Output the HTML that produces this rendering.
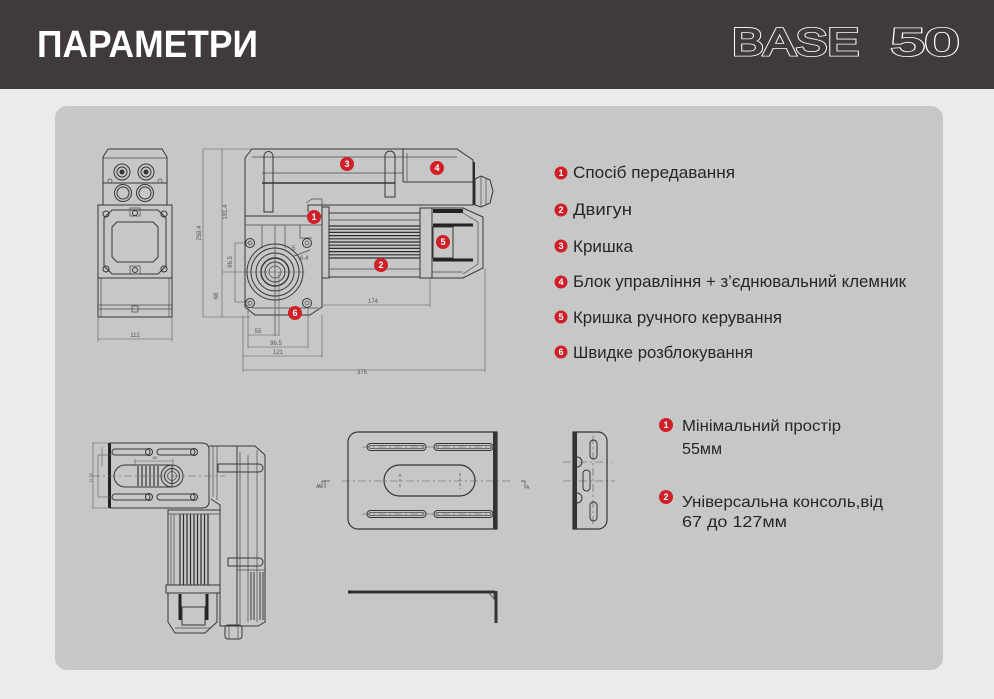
<!DOCTYPE html>
<html><head><meta charset="utf-8"><style>
html,body{margin:0;padding:0;background:#eaebea;}
svg{display:block}
.l{stroke:#363636;fill:none;stroke-width:1}
.t{stroke:#4a4a4a;fill:none;stroke-width:.7}
.d{stroke:#5a5a5a;fill:none;stroke-width:.6}
.k{stroke:#2a2a2a;fill:none;stroke-width:2.5}
.cl{stroke:#555;fill:none;stroke-width:.6;stroke-dasharray:8 3 2 3}
.dim{font-family:"Liberation Sans",sans-serif;font-size:6px;fill:#555}
.lg{font-family:"Liberation Sans","Noto Sans CJK SC",sans-serif;fill:#262626}
.bn{font-family:"Liberation Sans",sans-serif;font-size:9px;font-weight:bold;fill:#fff;text-anchor:middle}
</style></head><body>
<svg width="994" height="699" viewBox="0 0 994 699" xmlns="http://www.w3.org/2000/svg">
<rect x="0" y="0" width="994" height="699" fill="#eaebea"/>
<rect x="0" y="0" width="994" height="89" fill="#403b3a"/>
<text x="37" y="57" font-family="Liberation Sans, sans-serif" font-weight="bold" font-size="38" fill="#fff" textLength="221" lengthAdjust="spacingAndGlyphs">ПАРАМЕТРИ</text>
<g font-family="Liberation Sans, sans-serif" font-size="38">
<text x="732" y="55" textLength="127" lengthAdjust="spacingAndGlyphs" fill="#403b3a" stroke="#fff" stroke-width="3">BASE</text>
<text x="732" y="55" textLength="127" lengthAdjust="spacingAndGlyphs" fill="#403b3a" stroke="#403b3a" stroke-width="1.4">BASE</text>
<text x="891" y="55" textLength="68" lengthAdjust="spacingAndGlyphs" fill="#403b3a" stroke="#fff" stroke-width="3">50</text>
<text x="891" y="55" textLength="68" lengthAdjust="spacingAndGlyphs" fill="#403b3a" stroke="#403b3a" stroke-width="1.4">50</text>
</g>
<rect x="55" y="106" width="888" height="564" rx="12" fill="#c6c8c7"/>

<!-- FRONT VIEW -->
<g>
<path class="l" d="M108,149 L162,149 L167,157 L167,205 M108,149 L103,157 L103,205"/>
<line class="t" x1="103" y1="158" x2="167" y2="158"/>
<line class="l" x1="103" y1="183" x2="167" y2="183"/>
<circle class="l" cx="122" cy="172" r="8"/><circle class="l" cx="122" cy="172" r="5"/><circle cx="122" cy="172" r="2.5" fill="#333"/>
<circle class="l" cx="146" cy="172" r="8"/><circle class="l" cx="146" cy="172" r="5"/><circle cx="146" cy="172" r="2.5" fill="#333"/>
<circle class="l" cx="123" cy="193" r="8.5"/><circle class="l" cx="123" cy="193" r="6"/>
<circle class="l" cx="145" cy="193" r="8.5"/><circle class="l" cx="145" cy="193" r="6"/>
<circle class="t" cx="110" cy="181" r="2"/><circle class="t" cx="160" cy="181" r="2"/>
<rect class="l" x="98" y="205" width="74" height="73"/>
<path class="l" d="M112,210 L158,210 L166,218 L166,266 L158,274 L112,274 L104,266 L104,218 Z"/>
<path class="l" d="M117,222 L153,222 L158,227 L158,257 L153,262 L117,262 L112,257 L112,227 Z"/>
<circle class="l" cx="106" cy="214" r="3"/><circle class="l" cx="164" cy="214" r="3"/>
<circle class="l" cx="106" cy="269" r="3"/><circle class="l" cx="164" cy="269" r="3"/>
<circle class="l" cx="135" cy="213" r="2.5"/><circle class="l" cx="135" cy="270" r="2.5"/>
<rect class="t" x="130" y="208" width="10" height="8"/><rect class="t" x="130" y="266" width="10" height="8"/>
<rect class="l" x="98" y="278" width="74" height="39"/>
<line class="t" x1="98" y1="305" x2="172" y2="305"/><line class="t" x1="98" y1="309" x2="172" y2="309"/>
<line class="t" x1="101" y1="278" x2="101" y2="317"/><line class="t" x1="169" y1="278" x2="169" y2="317"/>
<rect class="t" x="132" y="306" width="6" height="6"/>
<line class="d" x1="98" y1="317" x2="98" y2="342"/><line class="d" x1="172" y1="317" x2="172" y2="342"/>
<line class="d" x1="98" y1="339" x2="172" y2="339"/>
<text class="dim" x="135" y="337" text-anchor="middle">112</text>
</g>

<!-- SIDE VIEW -->
<g>
<line class="d" x1="203" y1="149" x2="203" y2="317"/><line class="d" x1="222" y1="149" x2="222" y2="317"/>
<line class="d" x1="203" y1="149" x2="252" y2="149"/><line class="d" x1="203" y1="317" x2="250" y2="317"/>
<text class="dim" transform="translate(201,233) rotate(-90)" text-anchor="middle">259.4</text>
<text class="dim" transform="translate(227,212) rotate(-90)" text-anchor="middle">191.4</text>
<text class="dim" transform="translate(218,296) rotate(-90)" text-anchor="middle">68</text>
<line class="d" x1="222" y1="272" x2="305" y2="272"/>
<line class="d" x1="235" y1="243" x2="235" y2="302"/>
<line class="d" x1="235" y1="243" x2="250" y2="243"/><line class="d" x1="235" y1="302" x2="250" y2="302"/>
<text class="dim" transform="translate(232,262) rotate(-90)" text-anchor="middle">96.5</text>
<path class="l" d="M245,216 L245,158 L252,149 L457,149 L473,160 L473,205 L308,205 L308,212"/>
<line class="k" x1="474" y1="162" x2="474" y2="205" style="stroke-width:2"/>
<line class="t" x1="252" y1="157" x2="457" y2="157"/>
<line class="t" x1="262" y1="173" x2="403" y2="173"/>
<line class="l" x1="262" y1="183" x2="395" y2="183" style="stroke-width:1.5"/>
<line class="l" x1="403" y1="149" x2="403" y2="182"/><line class="l" x1="403" y1="182" x2="473" y2="182"/>
<line class="t" x1="407" y1="153" x2="407" y2="182"/>
<path class="l" d="M264,212 L264,156 A4.5,4.5 0 0 1 273,156 L273,212 Z"/>
<path class="l" d="M385,197 L385,156 A5,5 0 0 1 395,156 L395,197 Z"/>
<path class="l" d="M475,179 L481,176 L490,180 L493,191 L490,203 L481,207 L475,205 Z"/>
<line class="t" x1="481" y1="176" x2="481" y2="207"/><line class="t" x1="486" y1="178" x2="486" y2="205"/>
<path class="t" d="M306,203 L312,199 L322,199 L322,207"/>
<path class="l" d="M245,216 L322,216 L322,307 L310,315 L255,315 L245,307 Z"/>
<line class="t" x1="245" y1="225" x2="322" y2="225"/>
<line class="t" x1="262" y1="225" x2="262" y2="248"/><line class="t" x1="275" y1="225" x2="275" y2="244"/><line class="t" x1="285" y1="225" x2="285" y2="248"/>
<path class="t" d="M300,225 L300,238 L312,238"/>
<line class="t" x1="252" y1="308" x2="318" y2="308"/>
<circle class="l" cx="250" cy="243" r="4.5"/><circle class="t" cx="250" cy="243" r="2"/>
<circle class="l" cx="307" cy="243" r="4.5"/><circle class="t" cx="307" cy="243" r="2"/>
<circle class="l" cx="250" cy="303" r="4.5"/><circle class="t" cx="250" cy="303" r="2"/>
<circle class="l" cx="307" cy="303" r="4.5"/><circle class="t" cx="307" cy="303" r="2"/>
<circle class="l" cx="275" cy="272" r="28"/><circle class="l" cx="275" cy="272" r="24"/>
<circle class="l" cx="275" cy="272" r="19"/><circle class="l" cx="275" cy="272" r="14" style="stroke-width:1.4"/>
<circle class="l" cx="275" cy="272" r="10"/><circle class="t" cx="275" cy="272" r="6"/>
<line class="t" x1="275" y1="244" x2="275" y2="336"/>
<line class="t" x1="294" y1="256" x2="310" y2="250"/>
<text class="dim" x="292" y="250">5</text><text class="dim" x="300" y="260">6.4</text>
<rect class="l" x="322" y="207" width="7" height="71"/>
<rect class="l" x="329" y="213" width="91" height="64"/>
<line class="t" x1="329" y1="220" x2="420" y2="220"/><line class="t" x1="329" y1="269" x2="420" y2="269"/>
<g stroke="#2e2e2e" stroke-width="1.2">
<line x1="329" y1="226" x2="420" y2="226"/><line x1="329" y1="229.2" x2="420" y2="229.2"/>
<line x1="329" y1="232.4" x2="420" y2="232.4"/><line x1="329" y1="235.6" x2="420" y2="235.6"/>
<line x1="329" y1="238.8" x2="420" y2="238.8"/><line x1="329" y1="242" x2="420" y2="242"/>
<line x1="329" y1="245.2" x2="420" y2="245.2"/><line x1="329" y1="248.4" x2="420" y2="248.4"/>
<line x1="329" y1="251.6" x2="420" y2="251.6"/><line x1="329" y1="254.8" x2="420" y2="254.8"/>
<line x1="329" y1="258" x2="420" y2="258"/>
</g>
<rect class="l" x="420" y="208" width="12" height="70"/>
<path class="l" d="M432,208 L463,208 L483,217 L483,268 L463,278 L432,278"/>
<line x1="433" y1="211" x2="463" y2="211" stroke="#222" stroke-width="4"/>
<line x1="433" y1="225" x2="473" y2="225" stroke="#222" stroke-width="3"/>
<line x1="433" y1="260" x2="473" y2="260" stroke="#222" stroke-width="3"/>
<rect class="l" x="433" y="227" width="20" height="31"/>
<path class="t" d="M463,213 L478,222 L478,264 L463,274"/>
<line class="t" x1="432" y1="272" x2="463" y2="272"/>
<line class="d" x1="323" y1="305" x2="430" y2="305"/><line class="d" x1="430" y1="278" x2="430" y2="307"/>
<text class="dim" x="373" y="303" text-anchor="middle">174</text>
<line class="d" x1="243" y1="370" x2="485" y2="370"/>
<line class="d" x1="243" y1="315" x2="243" y2="372"/><line class="d" x1="485" y1="268" x2="485" y2="372"/>
<text class="dim" x="362" y="374" text-anchor="middle">375</text>
<line class="d" x1="243" y1="356" x2="322" y2="356"/><line class="d" x1="322" y1="315" x2="322" y2="358"/>
<text class="dim" x="278" y="354" text-anchor="middle">121</text>
<line class="d" x1="248" y1="347" x2="308" y2="347"/>
<line class="d" x1="248" y1="305" x2="248" y2="348"/><line class="d" x1="308" y1="307" x2="308" y2="348"/>
<text class="dim" x="276" y="345" text-anchor="middle">96.5</text>
<line class="d" x1="248" y1="335" x2="279" y2="335"/><line class="d" x1="279" y1="272" x2="279" y2="336"/>
<text class="dim" x="258" y="333" text-anchor="middle">55</text>
</g>
<g>
<circle cx="347" cy="164" r="7" fill="#d11f28"/><text class="bn" x="347" y="167">3</text>
<circle cx="437" cy="168" r="7" fill="#d11f28"/><text class="bn" x="437" y="171">4</text>
<circle cx="314" cy="217" r="7" fill="#d11f28"/><text class="bn" x="314" y="220">1</text>
<circle cx="443" cy="242" r="7" fill="#d11f28"/><text class="bn" x="443" y="245">5</text>
<circle cx="381" cy="265" r="7" fill="#d11f28"/><text class="bn" x="381" y="268">2</text>
<circle cx="295" cy="313" r="7" fill="#d11f28"/><text class="bn" x="295" y="316">6</text>
</g>

<g>
<circle cx="561" cy="173" r="6.5" fill="#d11f28"/><text class="bn" x="561" y="176">1</text>
<circle cx="561" cy="210" r="6.5" fill="#d11f28"/><text class="bn" x="561" y="213">2</text>
<circle cx="561" cy="246" r="6.5" fill="#d11f28"/><text class="bn" x="561" y="249">3</text>
<circle cx="561" cy="282" r="6.5" fill="#d11f28"/><text class="bn" x="561" y="285">4</text>
<circle cx="561" cy="317" r="6.5" fill="#d11f28"/><text class="bn" x="561" y="320">5</text>
<circle cx="561" cy="352" r="6.5" fill="#d11f28"/><text class="bn" x="561" y="355">6</text>
<g class="lg" font-size="17">
<text x="573" y="178" textLength="162" lengthAdjust="spacingAndGlyphs">Спосіб передавання</text>
<text x="573" y="215" textLength="59" lengthAdjust="spacingAndGlyphs">Двигун</text>
<text x="573" y="252" textLength="60" lengthAdjust="spacingAndGlyphs">Кришка</text>
<text x="573" y="287" textLength="333" lengthAdjust="spacingAndGlyphs">Блок управління + з’єднювальний клемник</text>
<text x="573" y="323" textLength="209" lengthAdjust="spacingAndGlyphs">Кришка ручного керування</text>
<text x="573" y="358" textLength="180" lengthAdjust="spacingAndGlyphs">Швидке розблокування</text>
</g>
</g>

<g>
<circle cx="666" cy="425" r="7" fill="#d11f28"/><text class="bn" x="666" y="428">1</text>
<circle cx="666" cy="497" r="7" fill="#d11f28"/><text class="bn" x="666" y="500">2</text>
<g class="lg" font-size="16">
<text x="682" y="431" textLength="159" lengthAdjust="spacingAndGlyphs">Мінімальний простір</text>
<text x="682" y="454" textLength="40" lengthAdjust="spacingAndGlyphs">55мм</text>
<text x="682" y="507" textLength="201" lengthAdjust="spacingAndGlyphs">Універсальна консоль,від</text>
<text x="682" y="527" textLength="105" lengthAdjust="spacingAndGlyphs">67 до 127мм</text>
</g>
</g>

<g>
<path class="l" d="M110,443 L202,443 Q209,443 209,450 L209,501 Q209,508 202,508 L110,508"/>
<line x1="109.5" y1="443" x2="109.5" y2="508" stroke="#222" stroke-width="3"/>
<line class="d" x1="92" y1="443" x2="110" y2="443"/><line class="d" x1="92" y1="508" x2="110" y2="508"/>
<line class="d" x1="93" y1="443" x2="93" y2="508"/><line class="d" x1="98" y1="455" x2="98" y2="497"/>
<line class="d" x1="98" y1="455" x2="112" y2="455"/><line class="d" x1="98" y1="497" x2="112" y2="497"/>
<line class="d" x1="102" y1="447" x2="102" y2="466"/>
<text class="dim" transform="translate(92,478) rotate(-90)" text-anchor="middle" style="font-size:4px">11 36</text>
<rect class="l" x="112" y="449" width="38" height="6" rx="3"/><rect class="l" x="157" y="449" width="38" height="6" rx="3"/>
<rect class="l" x="112" y="494" width="38" height="6" rx="3"/><rect class="l" x="157" y="494" width="38" height="6" rx="3"/>
<circle class="l" cx="149" cy="452" r="3.5"/><circle class="l" cx="194" cy="452" r="3.5"/>
<circle class="l" cx="149" cy="497" r="3.5"/><circle class="l" cx="194" cy="497" r="3.5"/>
<path class="l" d="M125,465 L172,465 L172,487 L125,487 A11,11 0 0 1 125,465 Z"/>
<circle class="l" cx="172" cy="476" r="11"/><circle class="l" cx="172" cy="476" r="7.5"/><circle class="t" cx="172" cy="476" r="4.5"/>
<g class="l" style="stroke-width:1.2">
<line x1="138" y1="466" x2="138" y2="486"/><line x1="142" y1="466" x2="142" y2="486"/>
<line x1="146" y1="466" x2="146" y2="486"/><line x1="150" y1="466" x2="150" y2="486"/>
<line x1="154" y1="466" x2="154" y2="486"/><line x1="158" y1="466" x2="158" y2="486"/>
</g>
<line class="cl" x1="92" y1="476" x2="225" y2="476"/>
<line class="d" x1="135" y1="461" x2="173" y2="461"/>
<line class="d" x1="135" y1="459" x2="135" y2="466"/><line class="d" x1="173" y1="459" x2="173" y2="466"/>
<text class="dim" x="155" y="459" text-anchor="middle" style="font-size:4px">80</text>
<path class="l" d="M209,446 L255,446 L265,455 L265,622 L258,626 L220,626 L220,505 L211,499"/>
<line class="t" x1="213" y1="446" x2="213" y2="497"/><line class="t" x1="217" y1="446" x2="217" y2="500"/>
<line class="l" x1="237" y1="446" x2="237" y2="626"/><line class="t" x1="240" y1="452" x2="240" y2="626"/>
<line class="t" x1="248" y1="455" x2="248" y2="622"/><line class="t" x1="257" y1="450" x2="257" y2="622"/>
<path class="l" d="M218,464 L259,464 A4,4 0 0 1 259,472 L218,472 Z" fill="#c6c8c7"/>
<path class="l" d="M228,558 L259,558 A4,4 0 0 1 259,566 L228,566 Z" fill="#c6c8c7"/>
<line class="t" x1="237" y1="570" x2="265" y2="570"/>
<g class="l"><line x1="251" y1="572" x2="251" y2="620"/><line x1="254" y1="572" x2="254" y2="620"/><line x1="260" y1="572" x2="260" y2="620"/><line x1="263" y1="572" x2="263" y2="620"/></g>
<rect class="l" x="168" y="510" width="52" height="75"/>
<line class="t" x1="168" y1="514" x2="220" y2="514"/>
<line class="t" x1="171" y1="514" x2="171" y2="585"/><line class="t" x1="174" y1="514" x2="174" y2="585"/>
<g stroke="#2e2e2e" stroke-width="1.2">
<line x1="180" y1="514" x2="180" y2="585"/><line x1="183.5" y1="514" x2="183.5" y2="585"/>
<line x1="187" y1="514" x2="187" y2="585"/><line x1="190.5" y1="514" x2="190.5" y2="585"/>
<line x1="194" y1="514" x2="194" y2="585"/><line x1="197.5" y1="514" x2="197.5" y2="585"/>
<line x1="201" y1="514" x2="201" y2="585"/><line x1="204.5" y1="514" x2="204.5" y2="585"/>
<line x1="208" y1="514" x2="208" y2="585"/>
</g>
<rect class="l" x="166" y="585" width="54" height="8"/>
<path class="l" d="M168,593 L168,622 L175,633 L205,633 L217,622 L217,593"/>
<rect class="l" x="182" y="607" width="23" height="18"/>
<line x1="180" y1="594" x2="180" y2="620" stroke="#222" stroke-width="3"/>
<line x1="207" y1="594" x2="207" y2="620" stroke="#222" stroke-width="3"/>
<line class="t" x1="175" y1="628" x2="210" y2="628"/>
<rect class="l" x="225" y="625" width="17" height="14" rx="3"/>
<line class="t" x1="229" y1="625" x2="229" y2="639"/><line class="t" x1="238" y1="625" x2="238" y2="639"/>
<text class="dim" x="316" y="488" style="font-size:5px">A</text>
<path class="t" d="M322,488 L322,481 L326,481"/>
</g>

<g>
<path class="l" d="M358,432 L497,432 L497,529 L358,529 A10,10 0 0 1 348,519 L348,442 A10,10 0 0 1 358,432 Z" style="stroke-width:1.2"/>
<rect x="493" y="432" width="4" height="97" fill="#333"/>
<line class="cl" x1="362" y1="447" x2="500" y2="447"/><line class="cl" x1="362" y1="514" x2="500" y2="514"/>
<rect class="l" x="367" y="443.5" width="59" height="7" rx="3.5" fill="#c6c8c7"/><rect class="t" x="369" y="445.5" width="55" height="3" rx="1.5"/>
<rect class="l" x="434" y="443.5" width="59" height="7" rx="3.5" fill="#c6c8c7"/><rect class="t" x="436" y="445.5" width="55" height="3" rx="1.5"/>
<rect class="l" x="367" y="510.5" width="59" height="7" rx="3.5" fill="#c6c8c7"/><rect class="t" x="369" y="512.5" width="55" height="3" rx="1.5"/>
<rect class="l" x="434" y="510.5" width="59" height="7" rx="3.5" fill="#c6c8c7"/><rect class="t" x="436" y="512.5" width="55" height="3" rx="1.5"/>
<rect class="l" x="384" y="465" width="91" height="31" rx="15.5" style="stroke-width:1.2"/>
<line class="cl" x1="342" y1="481" x2="512" y2="481"/>
<line class="t" x1="400" y1="474" x2="400" y2="488" stroke-dasharray="3 2"/>
<line class="t" x1="460" y1="473" x2="460" y2="489" stroke-dasharray="3 2"/>
<text class="dim" x="318" y="488" style="font-size:5px">A</text>
<path class="t" d="M325,488 L325,481 L330,481"/>
<path class="t" d="M521,481 L525,481 L525,488"/>
<text class="dim" x="526" y="489" style="font-size:5px">A</text>
</g>
<g>
<line class="cl" x1="563" y1="462" x2="612" y2="462"/><line class="cl" x1="563" y1="481" x2="615" y2="481"/>
<path class="l" d="M573,432 L598,432 A9,9 0 0 1 607,441 L607,520 A9,9 0 0 1 598,529 L573,529 Z" style="stroke-width:1.2"/>
<rect x="573" y="432" width="4" height="97" fill="#333"/>
<line class="cl" x1="593" y1="436" x2="593" y2="526"/>
<rect class="l" x="590" y="440" width="7" height="19" rx="3.5" fill="#c6c8c7"/>
<rect class="l" x="583" y="470" width="7" height="21" rx="3.5" fill="#c6c8c7"/>
<rect class="l" x="590" y="502" width="7" height="19" rx="3.5" fill="#c6c8c7"/>
<path class="l" d="M577,457 A5,5 0 0 1 577,467" fill="#aaa"/>
<path class="l" d="M577,493 A5,5 0 0 1 577,503" fill="#aaa"/>
</g>
<g>
<line x1="348" y1="592" x2="495" y2="592" stroke="#333" stroke-width="3"/>
<line x1="496" y1="591" x2="496" y2="623" stroke="#333" stroke-width="3"/>
<path d="M489,593 L494,593 L494,599 Z" fill="none" stroke="#444" stroke-width=".8"/>
<circle cx="350" cy="592" r="1.5" fill="#222"/>
</g>
</svg>
</body></html>
